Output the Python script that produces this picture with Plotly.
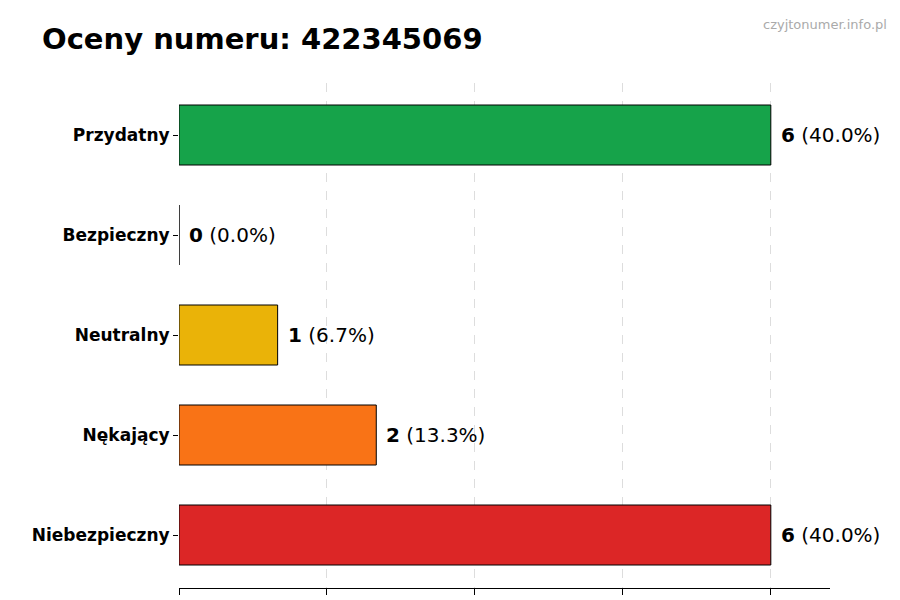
import plotly.graph_objects as go

categories = ["Niebezpieczny", "Nękający", "Neutralny", "Bezpieczny", "Przydatny"]
counts = [6, 2, 1, 0, 6]
percents = [40.0, 13.3, 6.7, 0.0, 40.0]
colors = ["#dc2626", "#f97316", "#eab308", "#9ca3af", "#16a34a"]

fig = go.Figure()
fig.add_trace(go.Bar(
    x=counts, y=categories, orientation="h", width=0.6,
    marker=dict(color=colors, line=dict(color="black", width=1)),
    hoverinfo="skip",
))

for c, v, p in zip(categories, counts, percents):
    fig.add_annotation(x=v, y=c, text=f"<b>{v}</b> ({p:.1f}%)", showarrow=False,
                       xanchor="left", xshift=8, font=dict(size=20, color="black"))

fig.add_annotation(text="czyjtonumer.info.pl", xref="paper", yref="paper",
                   x=1.09, y=1.115, xanchor="right", yanchor="middle", showarrow=False,
                   font=dict(size=13, color="#aaaaaa"))

fig.update_layout(
    width=900, height=600, plot_bgcolor="white", paper_bgcolor="white",
    margin=dict(l=171, r=78, t=75, b=20, autoexpand=False), showlegend=False,
    font=dict(family="DejaVu Sans"),
    title=dict(text="<b>Oceny numeru: 422345069</b>", x=34/900, xanchor="left",
               y=1 - 31/600, yanchor="middle", xref="container", yref="container",
               font=dict(size=29, color="black")),
    xaxis=dict(range=[0, 6.6], tickvals=[0, 1.5, 3, 4.5, 6], showticklabels=False,
               ticks="outside", ticklen=6, tickcolor="black", automargin=False,
               showgrid=True, gridcolor="#dddddd", griddash="dash", zeroline=False,
               showline=True, linecolor="black"),
    yaxis=dict(categoryorder="array", categoryarray=categories, range=[-0.53, 4.52],
               ticks="outside", ticklen=5, tickcolor="black", showline=False, automargin=False,
               tickfont=dict(size=17, color="black", weight="bold")),
)
fig.write_html("out.html")
